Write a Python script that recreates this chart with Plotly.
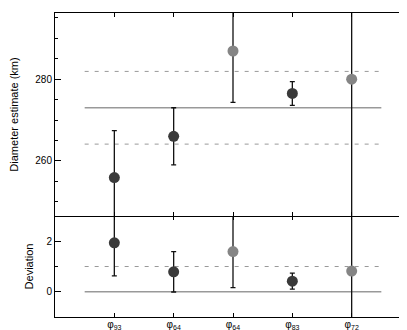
import plotly.graph_objects as go

labels = ["φ<sub>93</sub>", "φ<sub>64</sub>", "φ<sub>64</sub>", "φ<sub>83</sub>", "φ<sub>72</sub>"]
positions = [1, 2, 3, 4, 5]
diam = [255.9, 266.0, 286.9, 276.5, 280.0]
diam_err = [11.5, 7.0, 12.6, 2.9, 40.0]
dev = [1.94, 0.79, 1.59, 0.42, 0.82]
dev_err = [1.31, 0.80, 1.43, 0.32, 5.0]
point_colors = ["#3a3a3a", "#3a3a3a", "#858585", "#3a3a3a", "#858585"]
mean_diam = 273.0
sigma_diam = 8.9
ref_x = [0.5, 5.5]

fig = go.Figure()

fig.add_trace(go.Scatter(x=ref_x, y=[mean_diam]*2, mode="lines",
                         line=dict(color="#999999", width=1.5), xaxis="x", yaxis="y", showlegend=False))
for s in (-1, 1):
    fig.add_trace(go.Scatter(x=ref_x, y=[mean_diam + s*sigma_diam]*2, mode="lines",
                             line=dict(color="#999999", width=1, dash="4px,6px"), xaxis="x", yaxis="y", showlegend=False))
fig.add_trace(go.Scatter(x=ref_x, y=[0, 0], mode="lines",
                         line=dict(color="#999999", width=1.5), xaxis="x2", yaxis="y2", showlegend=False))
fig.add_trace(go.Scatter(x=ref_x, y=[1, 1], mode="lines",
                         line=dict(color="#999999", width=1, dash="4px,6px"), xaxis="x2", yaxis="y2", showlegend=False))

fig.add_trace(go.Scatter(x=positions, y=diam, mode="markers",
                         marker=dict(size=11, color=point_colors),
                         error_y=dict(type="data", array=diam_err, color="#111111", thickness=1.3, width=2.5),
                         xaxis="x", yaxis="y", showlegend=False))
fig.add_trace(go.Scatter(x=positions, y=dev, mode="markers",
                         marker=dict(size=11, color=point_colors),
                         error_y=dict(type="data", array=dev_err, color="#111111", thickness=1.3, width=2.5),
                         xaxis="x2", yaxis="y2", showlegend=False))

axis_common = dict(showline=True, linecolor="black", linewidth=1,
                   ticks="inside", tickcolor="black", zeroline=False, showgrid=False)
font = dict(family="Liberation Sans, Arial, sans-serif", size=10, color="black")
split = 101 / 304

fig.update_layout(
    width=407, height=330,
    margin=dict(l=47, r=4, t=5, b=21),
    paper_bgcolor="white", plot_bgcolor="white",
    font=font,
    xaxis=dict(domain=[0, 1], range=[0, 6], anchor="y", tickvals=positions, ticktext=labels,
               showticklabels=False, ticklen=4, mirror="ticks", **axis_common),
    yaxis=dict(domain=[split, 1], range=[246.5, 296.2], anchor="x", tickvals=[260, 280], ticklen=6,
               mirror="ticks",
               minor=dict(dtick=5, tick0=0, ticklen=3, ticks="inside", tickcolor="black", showgrid=False),
               title=dict(text="Diameter estimate (km)", standoff=15, font=dict(size=11)), **axis_common),
    xaxis2=dict(domain=[0, 1], range=[0, 6], anchor="y2", tickvals=positions, ticktext=labels,
                ticklen=4, ticklabelstandoff=-2, tickfont=dict(size=10), mirror=False, **axis_common),
    xaxis3=dict(overlaying="x2", anchor="y2", side="top", range=[0, 6], tickvals=positions,
                showticklabels=False, ticks="inside", ticklen=4, tickcolor="black",
                showline=False, showgrid=False, zeroline=False),
    yaxis2=dict(domain=[0, split], range=[-1, 3], anchor="x2", tickvals=[0, 2], ticklen=6,
                mirror="ticks",
                minor=dict(dtick=1, tick0=0, ticklen=3, ticks="inside", tickcolor="black", showgrid=False),
                title=dict(text="Deviation", standoff=10, font=dict(size=11)), **axis_common),
)
fig.add_trace(go.Scatter(x=[], y=[], xaxis="x3", yaxis="y2", showlegend=False))

fig.write_html("out.html")
